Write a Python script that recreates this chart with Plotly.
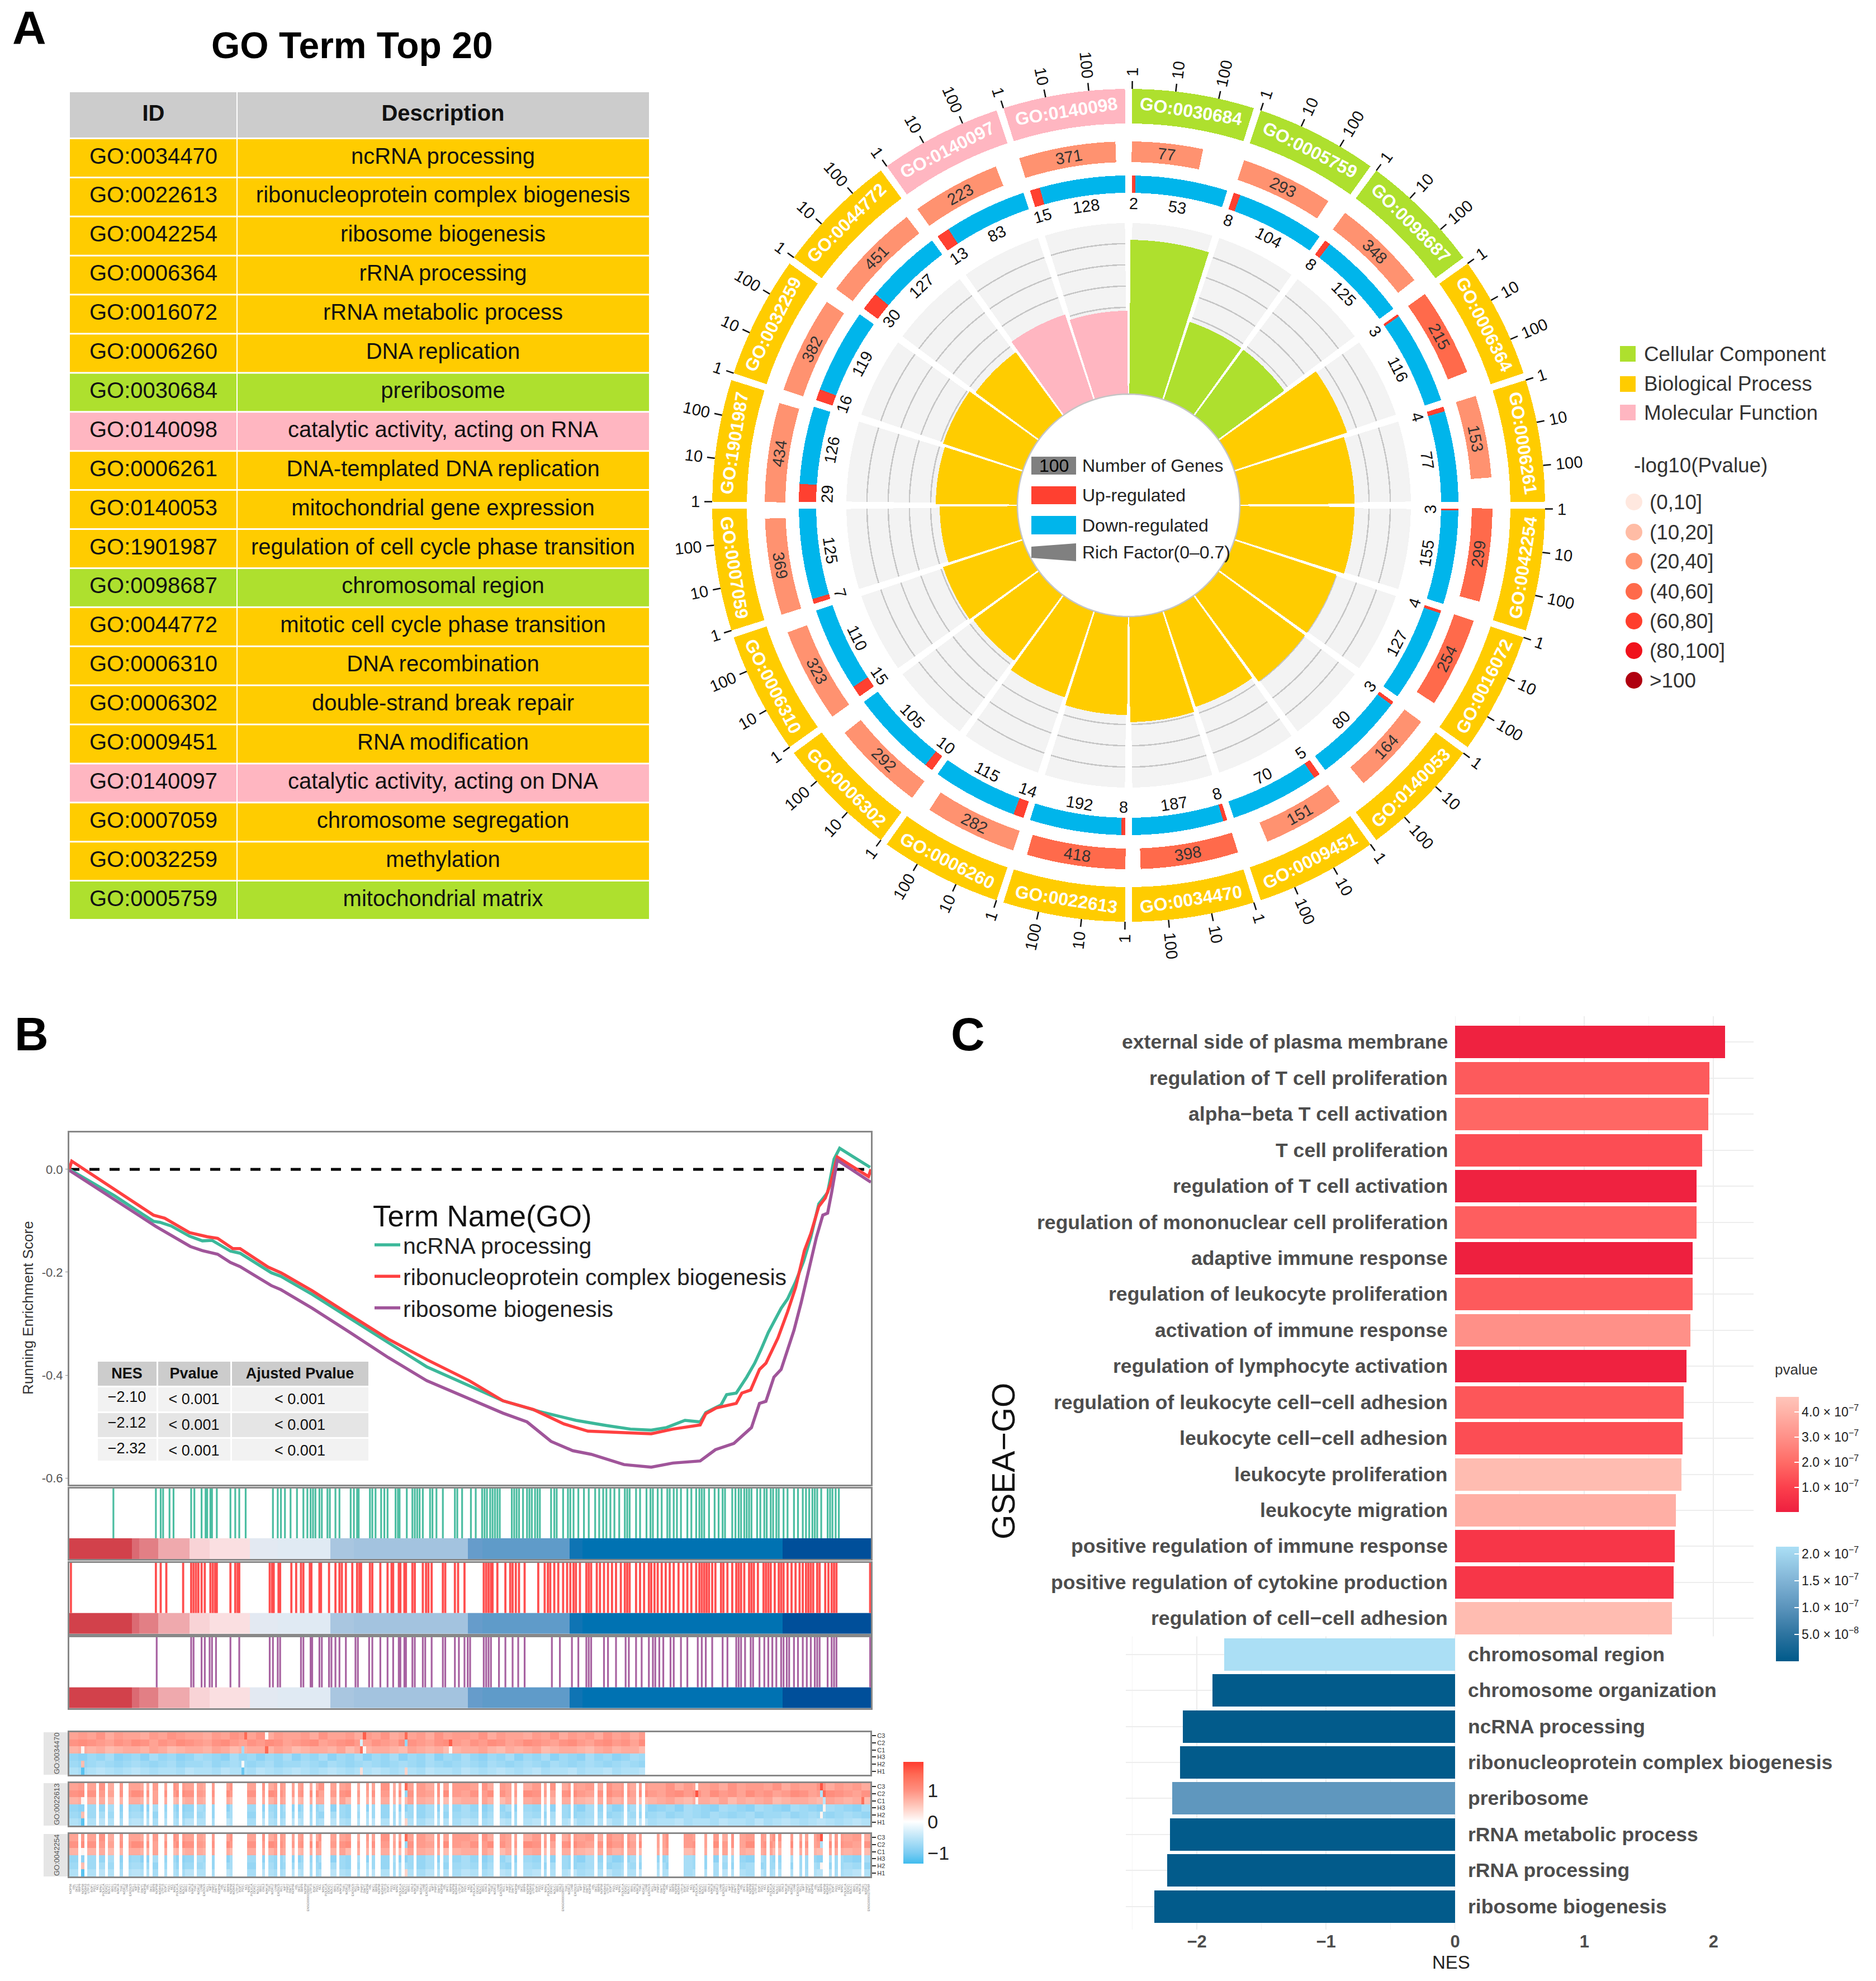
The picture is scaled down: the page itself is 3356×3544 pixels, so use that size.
import math
import plotly.graph_objects as go

W, H = 3356, 3544
FONT = "Liberation Sans"

# ---------- Panel A data ----------
TABLE_IDS = ["GO:0034470","GO:0022613","GO:0042254","GO:0006364","GO:0016072","GO:0006260","GO:0030684","GO:0140098","GO:0006261","GO:0140053","GO:1901987","GO:0098687","GO:0044772","GO:0006310","GO:0006302","GO:0009451","GO:0140097","GO:0007059","GO:0032259","GO:0005759"]
TABLE_DESC = ["ncRNA processing","ribonucleoprotein complex biogenesis","ribosome biogenesis","rRNA processing","rRNA metabolic process","DNA replication","preribosome","catalytic activity, acting on RNA","DNA-templated DNA replication","mitochondrial gene expression","regulation of cell cycle phase transition","chromosomal region","mitotic cell cycle phase transition","DNA recombination","double-strand break repair","RNA modification","catalytic activity, acting on DNA","chromosome segregation","methylation","mitochondrial matrix"]
TABLE_CAT = ["BP","BP","BP","BP","BP","BP","CC","MF","BP","BP","BP","CC","BP","BP","BP","BP","MF","BP","BP","CC"]
CAT_COLORS = {"BP":"#FFCC00","CC":"#AEE02E","MF":"#FFB6C1"}

CIRC_IDS = ["GO:0030684","GO:0005759","GO:0098687","GO:0006364","GO:0006261","GO:0042254","GO:0016072","GO:0140053","GO:0009451","GO:0034470","GO:0022613","GO:0006260","GO:0006302","GO:0006310","GO:0007059","GO:1901987","GO:0032259","GO:0044772","GO:0140097","GO:0140098"]
CIRC_CAT = ["CC","CC","CC","BP","BP","BP","BP","BP","BP","BP","BP","BP","BP","BP","BP","BP","BP","BP","MF","MF"]
CIRC_GENES = [77,293,348,215,153,299,254,164,151,398,418,282,292,323,369,434,382,451,223,371]
CIRC_PCLASS = [2,2,2,3,2,3,3,2,2,3,3,2,2,2,2,2,2,2,2,2]
CIRC_UP = [2,8,8,3,4,3,4,3,5,8,8,14,10,15,7,29,16,30,13,15]
CIRC_DOWN = [53,104,125,116,77,155,127,80,70,187,192,115,105,110,125,126,119,127,83,128]
CIRC_RICH = [.631,.336,.336,.487,.469,.469,.441,.441,.414,.432,.403,.373,.334,.345,.318,.334,.345,.323,.368,.341]
P_LABELS = ["(0,10]","(10,20]","(20,40]","(40,60]","(60,80]","(80,100]",">100"]
P_COLORS = ["#FFE8DF","#FFBCA5","#FF9270","#FF6A4B","#FF3E2D","#F0121C","#B00010"]
TICK_LABELS = ["1","10","100"]

# ---------- Panel B data ----------
ES_NAMES = ["ncRNA processing","ribonucleoprotein complex biogenesis","ribosome biogenesis"]
ES_COLORS = ["#3CB89A","#FF4040","#A0559A"]
ES_X_GREEN = [0,.056,.105,.113,.127,.150,.166,.178,.201,.213,.252,.264,.303,.350,.398,.446,.499,.541,.587,.632,.670,.700,.726,.745,.768,.787,.794,.813,.820,.832,.845,.855,.863,.872,.888,.896,.906,.916,.925,.935,.946,.954,.961,.999]
ES_Y_GREEN = [0,-.051,-.101,-.103,-.110,-.130,-.139,-.138,-.159,-.163,-.201,-.208,-.243,-.290,-.337,-.384,-.420,-.450,-.471,-.488,-.498,-.505,-.507,-.502,-.488,-.491,-.473,-.458,-.438,-.435,-.404,-.377,-.350,-.317,-.270,-.252,-.219,-.179,-.132,-.067,-.045,.020,.041,.004]
ES_X_RED = [0,.003,.105,.119,.150,.172,.185,.204,.213,.248,.264,.303,.350,.398,.446,.499,.541,.579,.617,.647,.692,.726,.753,.787,.794,.807,.832,.839,.850,.861,.869,.884,.896,.906,.917,.925,.935,.943,.949,.958,.997,1]
ES_Y_RED = [0,.016,-.089,-.095,-.123,-.131,-.134,-.154,-.154,-.190,-.201,-.236,-.283,-.330,-.370,-.411,-.450,-.467,-.495,-.509,-.512,-.514,-.505,-.497,-.475,-.464,-.455,-.435,-.429,-.389,-.377,-.328,-.277,-.230,-.158,-.125,-.072,-.056,-.031,.024,-.014,0]
ES_X_PURPLE = [0,.054,.108,.151,.166,.185,.201,.213,.252,.264,.303,.350,.398,.446,.499,.541,.571,.601,.628,.651,.692,.726,.753,.787,.806,.829,.851,.861,.869,.879,.888,.896,.904,.913,.922,.932,.940,.946,.951,.958,.997,1]
ES_Y_PURPLE = [-.002,-.056,-.111,-.150,-.158,-.165,-.181,-.189,-.226,-.234,-.270,-.317,-.366,-.411,-.447,-.474,-.491,-.529,-.547,-.554,-.574,-.579,-.571,-.567,-.545,-.533,-.502,-.455,-.451,-.404,-.389,-.353,-.313,-.259,-.197,-.132,-.089,-.085,-.045,.018,-.022,-.025]

HITS_GREEN = [55,108,114,117,125,130,152,156,165,170,172,176,178,184,201,207,212,220,254,260,264,269,276,284,292,297,301,304,307,312,315,322,325,332,337,351,355,359,361,375,378,382,389,393,397,407,410,412,421,428,431,434,437,441,450,453,458,466,481,484,490,
501,507,515,518,521,525,528,531,534,537,552,555,558,561,566,571,574,577,581,584,587,601,605,608,616,622,625,629,635,642,648,656,661,666,670,675,680,686,693,696,699,707,712,720,725,728,734,739,746,749,754,758,763,771,776,782,786,789,792,798,805,810,815,818,827,831,835,838,842,845,848,851,858,862,867,870,875,878,882,885,891,896,904,909,915,919,923,927,930,933,938,946,949,952,956,960]
HITS_RED = [2,108,114,121,142,152,155,158,161,165,169,176,179,182,184,201,207,210,212,250,253,255,261,263,277,283,289,292,300,302,312,314,324,332,337,340,345,353,359,362,364,375,378,388,397,402,404,411,413,418,420,428,431,441,445,448,452,466,469,481,485,493,
517,520,523,526,528,534,544,550,553,557,561,568,585,593,597,600,605,610,616,621,625,629,632,637,645,648,651,658,662,667,672,677,682,688,693,696,699,707,712,717,723,726,730,734,739,744,749,754,760,766,771,776,782,786,789,792,795,798,802,806,813,816,821,827,832,835,838,842,848,851,854,859,866,869,872,875,880,885,888,891,896,901,906,911,915,919,922,925,928,933,936,943,947,951,954,957,999]
HITS_PURPLE = [109,152,155,165,169,175,178,183,201,212,250,254,260,263,289,292,301,303,312,315,324,327,332,337,345,357,360,374,378,388,397,404,411,413,418,420,428,431,441,444,452,466,469,481,486,493,497,
500,517,520,523,526,536,544,553,560,568,602,612,627,635,645,648,651,667,672,682,694,698,707,714,723,728,731,736,741,750,754,763,771,784,789,794,802,815,821,832,835,838,843,850,853,861,867,872,877,882,888,891,895,898,904,909,915,920,925,930,933,936,946,951,954,957,999]
BAND_EDGES = [0,78,87,111,150,175,225,260,326,355,497,515,624,640,890,1000]
BAND_COLORS = ["#D2414B","#DB6A73","#E27F85","#EFA9AD","#F8D3D6","#FADFE1","#E3E9F2","#E0EAF3","#A9C6E0","#A3C3DF","#669CCB","#5F9BC9","#0F74B4","#0072B2","#004F9A"]

NES_HEAD = ["NES","Pvalue","Ajusted Pvalue"]
NES_VALS = ["−2.10","−2.12","−2.32"]
NES_P = ["< 0.001","< 0.001","< 0.001"]
NES_ADJ = ["< 0.001","< 0.001","< 0.001"]

HM_ROWS = ["H1","H2","H3","C1","C2","C3"]
HM_GO = ["GO:0034470","GO:0022613","GO:0042254"]
N_COLS = 270
EXPR_C3 = "454635443546544354654635445364453546344536455463544354635453645354463544536455463544635453"
EXPR_C2 = "676546576465765467546576456745675465476546754657645765467546756475467564756475645764576546"
EXPR_C1 = "232312332431233243123324312332413233214323123342132341233213423312342133241323412332143231"
EXPR_H3 = "564536546354653456354645364536453645364536453564536453645635465346546345634563456345634563"
EXPR_H2 = "454345434543544354345435443453454345434534543453454345345434543454354345345435443543454345"
EXPR_H1 = "232123212322312231223123212321232212322312231232123213221322132213221322312231321232123212"
C_LEVELS = [.55,.62,.69,.76,.83,.90,.97,1.04,1.11,1.18]
H_LEVELS = [-.45,-.52,-.59,-.66,-.73,-.80,-.87,-.94,-1.01,-1.08]
HM_OUTLIERS = [("C3",59,1.5),("C3",66,.05),("C3",99,1.6),("C3",113,1.5),("C2",98,-.3),("C2",113,-.8),("C2",128,1.6),("C1",4,.1),("C1",58,-.7),("C1",66,1.5),("C1",98,1.4),("C1",99,.1),("C1",128,.05),("H2",4,.6),("H2",58,.05),("H1",4,-1.2),("H1",98,.3),("H1",113,.4),("H1",58,-1.1),("C3",211,.05),("C2",211,1.7),("C1",211,.1),("C3",253,1.7),("C2",253,-.6),("C2",254,1.5),("C1",254,-.5),("H3",254,.1),("H2",253,.1),("C1",267,1.4)]
HM1_BANDS = [(0,194)]
HM2_GAPS = [(5,6),(9,10),(12,13),(15,17),(18,20),(25,26),(27,28),(30,32),(33,35),(37,38),(42,43),(46,48),(49,53),(55,60),(63,65),(66,67),(70,71),(73,75),(76,77),(79,81),(82,83),(86,88),(90,91),(95,97),(98,100),(101,102),(103,105),(108,109),(110,111),(112,113),(116,117),(123,124),(125,126),(128,129),(138,139),(143,145),(149,150),(151,153),(159,160),(161,162),(164,166),(169,170),(177,178),(180,181),(187,188),(191,192),(193,194)]
HM3_EXTRA_GAPS = [(3,4),(85,86),(194,198),(199,200),(202,207),(211,214),(215,217),(219,220),(222,223),(224,226),(231,233),(235,236),(238,239),(240,243),(244,246),(247,248),(249,251),(254,256),(257,258),(259,260),(267,268)]
GENE_NAMES = ["NOP56","FBL","DKC1","RRP9","NOP58","WDR43","UTP15","BOP1","PES1","NCL","NPM1","POLR1A","DDX21","NOLC1","RRS1","GNL3","MAK16","TSR1","WDR12","LYAR","EXOSC5","RCL1","NIP7","PWP2","DIMT1"]
GENE_LONG = {80:"ENSG00000259001",166:"ENSG00000285077",269:"ENSG00000275464"}

# ---------- Panel C data ----------
C_TERMS_UP = ["external side of plasma membrane","regulation of T cell proliferation","alpha−beta T cell activation","T cell proliferation","regulation of T cell activation","regulation of mononuclear cell proliferation","adaptive immune response","regulation of leukocyte proliferation","activation of immune response","regulation of lymphocyte activation","regulation of leukocyte cell−cell adhesion","leukocyte cell−cell adhesion","leukocyte proliferation","leukocyte migration","positive regulation of immune response","positive regulation of cytokine production","regulation of cell−cell adhesion"]
C_NES_UP = [2.09,1.97,1.96,1.91,1.87,1.87,1.84,1.84,1.82,1.79,1.77,1.76,1.75,1.71,1.70,1.69,1.68]
C_P_UP = [.1,1.6,1.9,1.3,.1,1.7,.05,1.6,3.0,.1,1.5,1.3,4.3,3.9,.7,.7,4.3]
C_TERMS_DOWN = ["chromosomal region","chromosome organization","ncRNA processing","ribonucleoprotein complex biogenesis","preribosome","rRNA metabolic process","rRNA processing","ribosome biogenesis"]
C_NES_DOWN = [-1.79,-1.88,-2.11,-2.13,-2.19,-2.21,-2.23,-2.33]
C_P_DOWN = [2.13,.02,.02,.02,1.05,.02,.02,.02]

# ---------- helpers ----------
def px(x): return x / W
def py(y): return 1 - y / H
def dx(a, b): return [a / W, b / W]
def dy(a, b): return [1 - b / H, 1 - a / H]

CX, CY, RMAX = 2019, 904, 800
def pol(theta, r):
    t = math.radians(theta)
    return px(CX + r * math.sin(t)), py(CY - r * math.cos(t))

ann = []
shapes = []
def txt(x, y, s, size, color="#000000", anchor="center", angle=0, bold=False, **kw):
    d = dict(x=px(x), y=py(y), xref="paper", yref="paper", text=("<b>%s</b>" % s) if bold else s,
             showarrow=False, xanchor=anchor, yanchor="middle", textangle=angle,
             font=dict(family=FONT, size=size, color=color))
    d.update(kw)
    ann.append(d)
def ptxt(theta, r, s, size, color, angle, bold=False):
    x, y = pol(theta, r)
    ann.append(dict(x=x, y=y, xref="paper", yref="paper", text=("<b>%s</b>" % s) if bold else s, showarrow=False,
                    xanchor="center", yanchor="middle", textangle=angle, font=dict(family=FONT, size=size, color=color)))
def rect(x0, y0, x1, y1, color, kind="rect", layer="above"):
    shapes.append(dict(type=kind, xref="paper", yref="paper", x0=px(x0), x1=px(x1), y0=py(y0), y1=py(y1),
                       fillcolor=color, line=dict(width=0), layer=layer))
def tangent(theta):
    return theta if (theta <= 90 or theta >= 270) else theta - 180
def radial(theta):
    return theta - 90 if theta < 180 else theta - 270

fig = go.Figure()

# ---------- Panel A table ----------
txt(52, 50, "A", 84, bold=True)
txt(630, 81, "GO Term Top 20", 66, bold=True)
TX0, TX1, TX2, TY0, TY_HEAD, ROW_H = 125, 424, 1161, 165, 247.5, 69.9
rect(TX0, TY0, TX1 - 1, TY_HEAD - 1.5, "#CCCCCC", layer="below")
rect(TX1 + 1, TY0, TX2, TY_HEAD - 1.5, "#CCCCCC", layer="below")
for i, c in enumerate(TABLE_CAT):
    y0 = TY_HEAD + i * ROW_H
    rect(TX0, y0 + 1.5, TX1 - 1, y0 + ROW_H - 1.5, CAT_COLORS[c], layer="below")
    rect(TX1 + 1, y0 + 1.5, TX2, y0 + ROW_H - 1.5, CAT_COLORS[c], layer="below")
clear = "rgba(0,0,0,0)"
fig.add_trace(go.Table(
    domain=dict(x=dx(TX0, TX2), y=dy(172, 1680)),
    columnwidth=[TX1 - TX0, TX2 - TX1],
    header=dict(values=["<b>ID</b>", "<b>Description</b>"], fill_color=clear, height=82.5,
                line=dict(color=clear, width=0), font=dict(family=FONT, size=40, color="#111111"), align="center"),
    cells=dict(values=[TABLE_IDS, TABLE_DESC], fill_color=clear, height=ROW_H,
               line=dict(color=clear, width=0), font=dict(family=FONT, size=40, color="#111111"), align="center")))

# ---------- Panel A circular plot ----------
T0 = [i * 18 for i in range(20)]
MID = [t + 9 for t in T0]
R_IN, R_BG = 199, 505
def bp(theta, r, base, width, color):
    fig.add_trace(go.Barpolar(theta=theta, r=r, base=base, width=width, marker=dict(color=color, line=dict(width=0)),
                              showlegend=False, hoverinfo="skip", subplot="polar"))
bp(MID, [R_BG - R_IN] * 20, [R_IN] * 20, [16.5] * 20, "#F3F3F3")
for rg in (353, 391, 429, 467):
    bp(MID, [2.5] * 20, [rg] * 20, [16.5] * 20, "#C6C6C6")
bp(MID, [v / 0.7 * (R_BG - R_IN) for v in CIRC_RICH], [R_IN] * 20, [17.2] * 20, [CAT_COLORS[c] for c in CIRC_CAT])
span = 16.8
up_w = [u / (u + d) * span for u, d in zip(CIRC_UP, CIRC_DOWN)]
dn_w = [span - w for w in up_w]
up_c = [t + .6 + w / 2 for t, w in zip(T0, up_w)]
dn_c = [t + .6 + u + w / 2 for t, u, w in zip(T0, up_w, dn_w)]
bp(up_c, [31] * 20, [559] * 20, up_w, "#FF4030")
bp(dn_c, [31] * 20, [559] * 20, dn_w, "#00B5EB")
gw = [math.log10(n) / 3 * 18 for n in CIRC_GENES]
gc = [t + .5 + w / 2 for t, w in zip(T0, gw)]
bp(gc, [37] * 20, [614] * 20, gw, [P_COLORS[c] for c in CIRC_PCLASS])
bp(MID, [62] * 20, [683] * 20, [17] * 20, [CAT_COLORS[c] for c in CIRC_CAT])
fig.add_trace(go.Scatterpolar(theta=list(range(0, 361, 3)), r=[R_IN] * 121, mode="lines",
                              line=dict(color="#C4C4C4", width=2.5), showlegend=False, hoverinfo="skip", subplot="polar"))
tk_t, tk_r = [], []
for t in T0:
    for k in range(3):
        tk_t += [t + .5 + 6 * k, t + .5 + 6 * k, None]
        tk_r += [745, 759, None]
fig.add_trace(go.Scatterpolar(theta=tk_t, r=tk_r, mode="lines", line=dict(color="#111111", width=2.5),
                              showlegend=False, hoverinfo="skip", subplot="polar"))
for i, t in enumerate(T0):
    ptxt(MID[i], 714, CIRC_IDS[i], 32, "white", tangent(MID[i]), bold=True)
    ptxt(gc[i], 632, str(CIRC_GENES[i]), 29, "#333333", tangent(gc[i]))
    ptxt(up_c[i], 540, str(CIRC_UP[i]), 29, "#111111", tangent(up_c[i]))
    ptxt(dn_c[i], 540, str(CIRC_DOWN[i]), 29, "#111111", tangent(dn_c[i]))
    for k, lab in enumerate(TICK_LABELS):
        th = t + .5 + 6 * k
        ptxt(th, 767 + 0.5 * 0.56 * 29 * len(lab), lab, 29, "#111111", radial(th))

rect(1845, 817, 1925, 849, "#808080")
rect(1845, 870, 1925, 902, "#FF4030")
rect(1845, 923, 1925, 956, "#00B5EB")
shapes.append(dict(type="path", xref="paper", yref="paper", layer="above", fillcolor="#808080", line=dict(width=0),
                   path="M %f %f L %f %f L %f %f L %f %f Z" % (px(1845), py(978), px(1925), py(972), px(1925), py(1004), px(1845), py(998))))
txt(1885, 833, "100", 32)
for y, s in ((833, "Number of Genes"), (886, "Up-regulated"), (940, "Down-regulated"), (988, "Rich Factor(0–0.7)")):
    txt(1934, y, s, 32, color="#222222", anchor="left")
for y, s, c in ((633, "Cellular Component", "CC"), (687, "Biological Process", "BP"), (738, "Molecular Function", "MF")):
    rect(2898, y - 14, 2926, y + 14, CAT_COLORS[c])
    txt(2939, y, s, 36.8, color="#333333", anchor="left")
txt(2921, 832, "-log10(Pvalue)", 36.8, color="#333333", anchor="left")
for y, s, c in zip((898, 952, 1004, 1058, 1111, 1164, 1217), P_LABELS, P_COLORS):
    rect(2908, y - 15, 2938, y + 15, c, kind="circle")
    txt(2949, y, s, 36.8, color="#333333", anchor="left")

# ---------- Panel B ----------
txt(56, 1850, "B", 84, bold=True)
XL, XR = 124, 1558
es_sets = [(ES_X_GREEN, ES_Y_GREEN), (ES_X_RED, ES_Y_RED), (ES_X_PURPLE, ES_Y_PURPLE)]
fig.add_trace(go.Scatter(x=[0, 1], y=[0, 0], mode="lines", line=dict(color="black", width=5, dash="18px,18px"),
                         showlegend=False, hoverinfo="skip", xaxis="x", yaxis="y"))
for (xs, ys), n, c in zip(es_sets, ES_NAMES, ES_COLORS):
    fig.add_trace(go.Scatter(x=xs, y=ys, mode="lines", name=n, line=dict(color=c, width=5.5), xaxis="x", yaxis="y",
                             showlegend=True, hoverinfo="skip"))

n_band = len(BAND_COLORS)
band_scale = [[i / (n_band - 1), c] for i, c in enumerate(BAND_COLORS)]
hits_sets = [HITS_GREEN, HITS_RED, HITS_PURPLE]
rug_dom = [(2663, 2789), (2796, 2923), (2929, 3056)]
rug_width = [3.2, 3.8, 3.2]
STRIP = .294
for i, (hits, c) in enumerate(zip(hits_sets, ES_COLORS)):
    ax = str(i + 2)
    fig.add_trace(go.Heatmap(x=BAND_EDGES, y=[0, STRIP], z=[list(range(n_band))], colorscale=band_scale, zmin=0, zmax=n_band - 1,
                             showscale=False, hoverinfo="skip", xaxis="x" + ax, yaxis="y" + ax))
    xs, ys = [], []
    for h in hits:
        xs += [h, h, None]
        ys += [STRIP, 1, None]
    fig.add_trace(go.Scatter(x=xs, y=ys, mode="lines", line=dict(color=c, width=rug_width[i]), opacity=.92, showlegend=False,
                             hoverinfo="skip", xaxis="x" + ax, yaxis="y" + ax))

fig.add_trace(go.Table(
    domain=dict(x=dx(173, 660), y=dy(2434, 2613)),
    columnwidth=[108, 132, 247],
    header=dict(values=["<b>%s</b>" % s for s in NES_HEAD], fill_color="#CCCCCC", height=44,
                line=dict(color="white", width=3), font=dict(family=FONT, size=27, color="#111111"), align="center"),
    cells=dict(values=[NES_VALS, NES_P, NES_ADJ], height=45, line=dict(color="white", width=3),
               fill_color=[["#F2F2F2", "#E5E5E5", "#F2F2F2"]] * 3,
               font=dict(family=FONT, size=27, color="#111111"), align="center")))
txt(50, 2340, "Running Enrichment Score", 26, color="#333333", angle=-90)

def expr_row(s, levels):
    return [levels[int(s[min(j // 3, len(s) - 1)])] for j in range(N_COLS)]
expr = {"C3": expr_row(EXPR_C3, C_LEVELS), "C2": expr_row(EXPR_C2, C_LEVELS), "C1": expr_row(EXPR_C1, C_LEVELS),
        "H3": expr_row(EXPR_H3, H_LEVELS), "H2": expr_row(EXPR_H2, H_LEVELS), "H1": expr_row(EXPR_H1, H_LEVELS)}
for r, c, v in HM_OUTLIERS:
    expr[r][c] = v
absent1 = set(range(N_COLS))
for a, b in HM1_BANDS:
    absent1 -= set(range(a, b))
absent2 = set()
for a, b in HM2_GAPS:
    absent2 |= set(range(a, b))
absent3 = set(absent2)
for a, b in HM3_EXTRA_GAPS:
    absent3 |= set(range(a, b))
col_x = [j + .5 for j in range(N_COLS)]
hm_dom = [(3099, 3175), (3190, 3266), (3281, 3357)]
for i, absent in enumerate((absent1, absent2, absent3)):
    ax = str(i + 5)
    z = [[None if j in absent else expr[r][j] for j in range(N_COLS)] for r in HM_ROWS]
    fig.add_trace(go.Heatmap(x=col_x, y=HM_ROWS, z=z, coloraxis="coloraxis", hoverinfo="skip", xaxis="x" + ax, yaxis="y" + ax))
    rect(78, hm_dom[i][0], XL, hm_dom[i][1], "#E5E5E5", layer="below")
    txt(101, sum(hm_dom[i]) / 2, HM_GO[i], 13, color="#555555", angle=-90)

# ---------- Panel C ----------
txt(1731, 1850, "C", 84, bold=True)
SC_UP = [[0, "#EE1F3F"], [.21, "#FB3F4C"], [.43, "#FF6B66"], [.65, "#FF9088"], [.87, "#FFB3A8"], [1, "#FFC5BA"]]
SC_DN = [[0, "#005A8A"], [.23, "#2C739F"], [.47, "#5B94BC"], [.70, "#80B3D5"], [1, "#ABDFF5"]]
def cbar(top, bottom, vals, labs):
    return dict(x=px(3177), xanchor="left", thickness=41, thicknessmode="pixels", y=py((top + bottom) / 2), yanchor="middle",
                len=(bottom - top) / H, lenmode="fraction", outlinewidth=0, xpad=0, ypad=0, tickvals=vals, ticktext=labs,
                ticks="inside", ticklen=8, tickcolor="white", tickwidth=2, tickfont=dict(family=FONT, size=23, color="#222222"))
fig.add_trace(go.Bar(y=C_TERMS_UP, x=C_NES_UP, orientation="h", width=.9, xaxis="x8", yaxis="y8", showlegend=False, hoverinfo="skip",
                     marker=dict(color=C_P_UP, colorscale=SC_UP, cmin=.02, cmax=4.6, line=dict(width=0),
                                 colorbar=cbar(2499, 2705, [1, 2, 3, 4], ["%d.0 × 10<sup>−7</sup>" % k for k in (1, 2, 3, 4)]))))
fig.add_trace(go.Bar(y=C_TERMS_DOWN, x=C_NES_DOWN, orientation="h", width=.9, xaxis="x8", yaxis="y8", showlegend=False, hoverinfo="skip",
                     marker=dict(color=C_P_DOWN, colorscale=SC_DN, cmin=0, cmax=2.13, line=dict(width=0),
                                 colorbar=cbar(2767, 2972, [.5, 1, 1.5, 2], ["5.0 × 10<sup>−8</sup>", "1.0 × 10<sup>−7</sup>", "1.5 × 10<sup>−7</sup>", "2.0 × 10<sup>−7</sup>"]))))
txt(3213, 2450, "pvalue", 26, color="#333333")
for i, term in enumerate(C_TERMS_UP):
    ann.append(dict(x=-.05, y=i, xref="x8", yref="y8", text="<b>%s</b>" % term, showarrow=False, xanchor="right", yanchor="middle",
                    font=dict(family=FONT, size=35.6, color="#4D4D4D")))
for i, term in enumerate(C_TERMS_DOWN):
    ann.append(dict(x=.09, y=i + len(C_TERMS_UP), xref="x8", yref="y8", text="<b>%s</b>" % term, showarrow=False, xanchor="left", yanchor="middle",
                    font=dict(family=FONT, size=35.6, color="#4D4D4D")))
shapes.append(dict(type="rect", xref="x8", yref="y8", x0=-2.55, x1=0, y0=-.72, y1=16.5, fillcolor="white", line=dict(width=0), layer="between"))
shapes.append(dict(type="rect", xref="x8", yref="y8", x0=0, x1=2.31, y0=16.5, y1=24.64, fillcolor="white", line=dict(width=0), layer="between"))
txt(1795, 2614, "GSEA−GO", 57, angle=-90, color="#111111")
txt(2596, 3510, "NES", 33, color="#222222")

# ---------- layout ----------
box = dict(showline=True, mirror=True, linecolor="#888888", linewidth=3, showgrid=False, zeroline=False, ticks="")
layout = dict(
    width=W, height=H, autosize=False, margin=dict(l=0, r=0, t=0, b=0), paper_bgcolor="white", plot_bgcolor="white",
    font=dict(family=FONT), annotations=ann, shapes=shapes, bargap=0, barmode="overlay",
    legend=dict(x=px(665), y=py(2125), xanchor="left", yanchor="top", bgcolor="rgba(0,0,0,0)", itemwidth=46,
                font=dict(family=FONT, size=41, color="#222222"),
                title=dict(text="Term Name(GO)", font=dict(family=FONT, size=53, color="#111111"))),
    polar=dict(domain=dict(x=dx(CX - RMAX, CX + RMAX), y=dy(CY - RMAX, CY + RMAX)), bgcolor="rgba(0,0,0,0)", barmode="overlay",
               radialaxis=dict(visible=False, range=[0, RMAX]),
               angularaxis=dict(visible=False, direction="clockwise", rotation=90, thetaunit="degrees")),
    xaxis=dict(domain=dx(XL, XR), range=[0, 1], anchor="y", showticklabels=False, **box),
    yaxis=dict(domain=dy(2026, 2656), range=[-.613, .0717], anchor="x", tickvals=[0, -.2, -.4, -.6],
               ticktext=["0.0", "-0.2", "-0.4", "-0.6"], tickfont=dict(family=FONT, size=22, color="#555555"),
               **{**box, "ticks": "outside"}, ticklen=4, tickcolor="#888888"),
    coloraxis=dict(cmin=-1.34, cmax=1.91,
                   colorscale=[[0, "#40BCEE"], [.105, "#7CCCF2"], [.258, "#BDE5F8"], [.412, "#FFFFFF"], [.566, "#FFC8BC"], [.72, "#FF9080"], [.874, "#FF6A55"], [1, "#FF3B2F"]],
                   colorbar=dict(x=px(1616), xanchor="left", thickness=36, thicknessmode="pixels", y=py(3243), yanchor="middle", len=182 / H,
                                 lenmode="fraction", outlinewidth=0, xpad=0, ypad=0, tickvals=[-1, 0, 1], ticktext=["−1", "0", "1"], ticks="",
                                 tickfont=dict(family=FONT, size=34, color="#222222"))),
    xaxis8=dict(domain=dx(2014, 3137), range=[-2.55, 2.31], anchor="y8", showgrid=True, gridcolor="#EDEDED", gridwidth=2, zeroline=False,
                tickvals=[-2, -1, 0, 1, 2], ticktext=["−2", "−1", "0", "1", "2"], ticks="", tickfont=dict(family=FONT, size=31, color="#4D4D4D", weight="bold"),
                minor=dict(dtick=.5, tick0=0, showgrid=True, gridcolor="#F4F4F4", gridwidth=1)),
    yaxis8=dict(domain=dy(1818, 3452), type="category", categoryorder="array", categoryarray=C_TERMS_UP + C_TERMS_DOWN,
                range=[24.64, -.72], anchor="x8", showticklabels=False, showgrid=True, gridcolor="#EDEDED", gridwidth=2, zeroline=False, ticks=""),
)
for i, (a, b) in enumerate(rug_dom):
    k = i + 2
    layout["xaxis%d" % k] = dict(domain=dx(XL, XR), range=[0, 1000], anchor="y%d" % k, showticklabels=False, **box)
    layout["yaxis%d" % k] = dict(domain=dy(a, b), range=[0, 1], anchor="x%d" % k, showticklabels=False, **box)
for i, (a, b) in enumerate(hm_dom):
    k = i + 5
    xa = dict(domain=dx(XL, 1557), range=[0, N_COLS], anchor="y%d" % k, showticklabels=False, **box)
    if i == 2:
        xa.update(showticklabels=True, tickvals=col_x,
                  ticktext=[GENE_LONG.get(j, GENE_NAMES[j % len(GENE_NAMES)]) for j in range(N_COLS)],
                  tickangle=-90, tickfont=dict(family=FONT, size=5.5, color="#777777"), ticklabelstandoff=8)
    layout["xaxis%d" % k] = xa
    ya = dict(box)
    ya.update(ticks="outside", ticklen=7, tickwidth=2, tickcolor="#333333")
    layout["yaxis%d" % k] = dict(domain=dy(a, b), type="category", categoryorder="array", categoryarray=HM_ROWS, side="right", anchor="x%d" % k,
                                 tickmode="array", tickvals=HM_ROWS, ticktext=HM_ROWS,
                                 tickfont=dict(family=FONT, size=11, color="#333333"), **ya)
fig.update_layout(**layout)
fig.write_html("out.html", config={"displayModeBar": False},
               post_script="document.body.style.margin='0';document.documentElement.style.overflow='hidden';")
